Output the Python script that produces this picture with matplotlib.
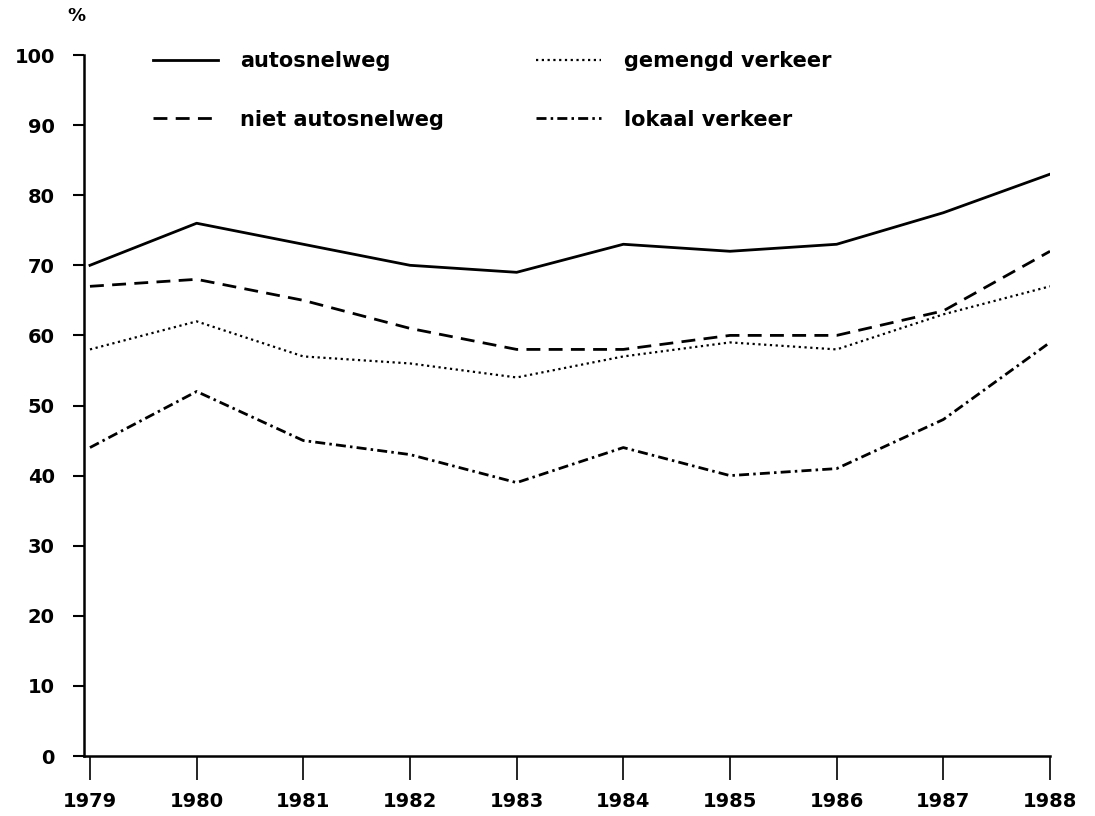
import matplotlib
matplotlib.use("Agg")
import matplotlib.pyplot as plt

years = [1979, 1980, 1981, 1982, 1983, 1984, 1985, 1986, 1987, 1988]
autosnelweg = [70, 76, 73, 70, 69, 73, 72, 73, 77.5, 83]
niet_autosnelweg = [67, 68, 65, 61, 58, 58, 60, 60, 63.5, 72]
gemengd_verkeer = [58, 62, 57, 56, 54, 57, 59, 58, 63, 67]
lokaal_verkeer = [44, 52, 45, 43, 39, 44, 40, 41, 48, 59]
series_labels = ["autosnelweg", "niet autosnelweg", "gemengd verkeer", "lokaal verkeer"]
yticks = [0, 10, 20, 30, 40, 50, 60, 70, 80, 90, 100]

W, H = 1095, 816
fig = plt.figure(figsize=(W / 100, H / 100), dpi=100)
ax = fig.add_axes([84 / W, (H - 756) / H, (1050 - 84) / W, (756 - 55) / H])

FONT = "DejaVu Sans"
lw = 2.0
ax.plot(years, autosnelweg, color="black", lw=lw, linestyle="-",
        label=series_labels[0], solid_joinstyle="round")
ax.plot(years, niet_autosnelweg, color="black", lw=lw, linestyle=(0, (5, 3)),
        label=series_labels[1], dash_capstyle="butt")
ax.plot(years, gemengd_verkeer, color="black", lw=lw * 0.8, linestyle=(0, (1, 1.6)),
        label=series_labels[2])
ax.plot(years, lokaal_verkeer, color="black", lw=lw, linestyle=(0, (3.6, 1.5, 0.9, 1.5)),
        label=series_labels[3])

ax.set_xlim(1978.944, 1988)
ax.set_ylim(0, 100)
ax.set_xticks(years)
ax.set_xticklabels([str(y) for y in years], fontfamily=FONT, fontweight="bold", fontsize=14)
ax.set_yticks(yticks)
ax.set_yticklabels([str(v) for v in yticks], fontfamily=FONT, fontweight="bold", fontsize=14)

for s in ["top", "right"]:
    ax.spines[s].set_visible(False)
for s in ["left", "bottom"]:
    ax.spines[s].set_linewidth(1.8)
ax.tick_params(axis="y", direction="out", length=8, width=1.5, pad=13)
ax.tick_params(axis="x", direction="out", length=17, width=1.2, pad=9)

leg = ax.legend(ncol=2, loc="upper left", bbox_to_anchor=(153 / W, (H - 51) / H),
                bbox_transform=fig.transFigure, frameon=False, borderpad=0,
                borderaxespad=0, handlelength=3.1, handletextpad=1.1,
                columnspacing=4.4, labelspacing=1.85,
                prop={"family": FONT, "weight": "bold", "size": 15})

fig.text(76 / W, (H - 16) / H, "%", fontfamily=FONT, fontweight="bold",
         fontsize=13, ha="center", va="center")

fig.savefig("out.png", dpi=100)
